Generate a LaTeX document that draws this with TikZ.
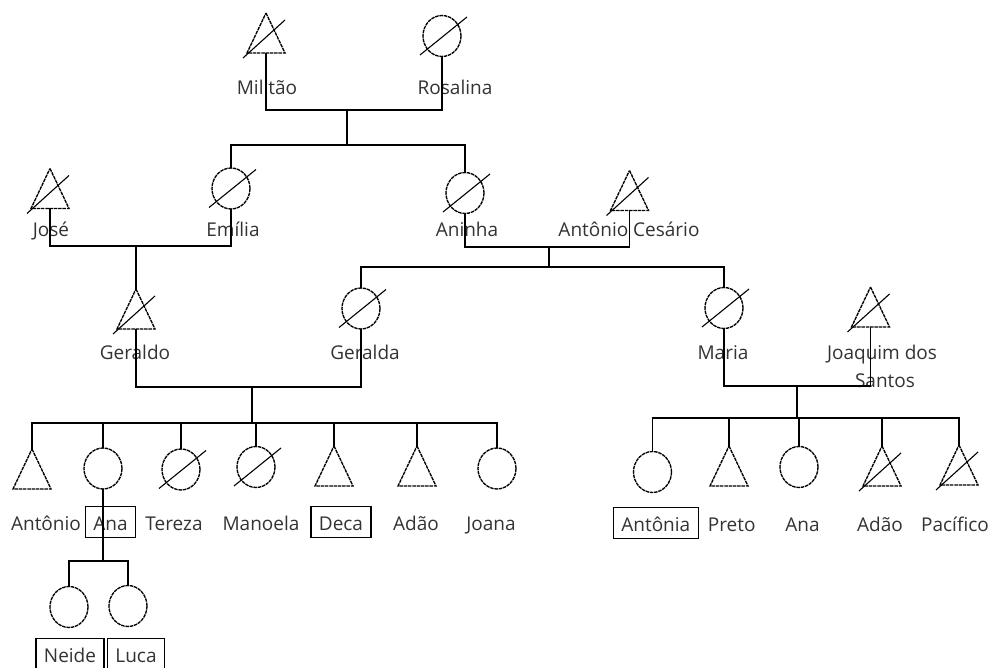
\documentclass[tikz,border=0pt]{standalone}
\usepackage{fontspec}
\setmainfont{Open Sans}
\usetikzlibrary{shapes.geometric}
\begin{document}
\begin{tikzpicture}[x=1pt,y=-1pt,
  outline/.style={line width=1.35pt, dash pattern=on 3.5pt off 0.8pt},
  male/.style={rectangle, minimum width=38pt, minimum height=40pt, inner sep=0pt, outer sep=0pt},
  female/.style={ellipse, draw, outline, minimum width=38pt, minimum height=41pt, inner sep=0pt, outer sep=0pt},
  link/.style={line width=1.6pt},
  slash/.style={line width=1.1pt},
  pname/.style={anchor=base, inner sep=0pt, text=black!80, font=\fontsize{19}{28}\selectfont},
  pbox/.style={pname, draw=black, line width=1.3pt, inner xsep=8pt, inner ysep=3pt,
    text height=20.5pt, text depth=4.5pt}]
\useasboundingbox (0,0) rectangle (993,668);
\clip (0,0) rectangle (993,668);
\fill[white] (0,0) rectangle (993,668);

% ---- persons ----
% first generation
\node[male]   (militao)  at (266,33) {};
\node[female] (rosalina) at (442,36) {};
% second generation
\node[male]   (jose)     at (50,188.5) {};
\node[female] (emilia)   at (231,188.5) {};
\node[female] (aninha)   at (465,193) {};
\node[male]   (cesario)  at (629.5,190.5) {};
% third generation
\node[male]   (geraldo)  at (136,309) {};
\node[female] (geralda)  at (361,308.5) {};
\node[female] (maria)    at (724,308) {};
\node[male]   (joaquim)  at (870.5,307) {};
% children of Geraldo and Geralda
\node[male]   (antonio)  at (32,469) {};
\node[female] (ana)      at (103,468.5) {};
\node[female] (tereza)   at (181,469.5) {};
\node[female] (manoela)  at (256,467) {};
\node[male]   (deca)     at (334,466) {};
\node[male]   (adao)     at (417,466) {};
\node[female] (joana)    at (497,468.5) {};
% children of Maria and Joaquim
\node[female] (antonia)  at (652.5,472) {};
\node[male]   (preto)    at (729,466) {};
\node[female] (anab)     at (799,467) {};
\node[male]   (adaob)    at (882,466) {};
\node[male]   (pacifico) at (959,465) {};
% children of Ana
\node[female] (neide)    at (69,607) {};
\node[female] (luca)     at (128,606) {};

% triangles for the male symbols
\foreach \p in {militao,jose,cesario,geraldo,joaquim,antonio,deca,adao,preto,adaob,pacifico}
  \draw[outline] (\p.north) -- (\p.south east) -- (\p.south west) -- cycle;

% strokes marking the deceased
\foreach \p in {militao,jose,cesario,geraldo,joaquim,adaob,pacifico}
  \draw[slash] ([shift={(-23,25)}]\p.center) -- ([shift={(19,-13)}]\p.center);
\foreach \p in {rosalina,emilia,aninha,geralda,maria,tereza,manoela}
  \draw[slash] ([shift={(-22,19)}]\p.center) -- ([shift={(25,-19)}]\p.center);

% ---- names ----
\node[pname] (lmilitao)  at (267,95)  {Militão};
\node[pname] (lrosalina) at (455,95)  {Rosalina};
\node[pname] (ljose)     at (51,237)  {José};
\node[pname] (lemilia)   at (233,237) {Emília};
\node[pname] (laninha)   at (467,237) {Aninha};
\node[pname] (lcesario)  at (629,237) {Antônio Cesário};
\node[pname] (lgeraldo)  at (135,359) {Geraldo};
\node[pname] (lgeralda)  at (365,359) {Geralda};
\node[pname] (lmaria)    at (723,359) {Maria};
\node[pname] (ljoaquima) at (882,359) {Joaquim dos};
\node[pname] (ljoaquimb) at (885,387) {Santos};
\node[pname] (lantonio)  at (46,530)  {Antônio};
\node[pbox]  (lana)      at (110.5,530) {Ana};
\node[pname] (ltereza)   at (174,530) {Tereza};
\node[pname] (lmanoela)  at (261,530) {Manoela};
\node[pbox]  (ldeca)     at (341,530) {Deca};
\node[pname] (ladao)     at (416,530) {Adão};
\node[pname] (ljoana)    at (491,530) {Joana};
\node[pbox]  (lantonia)  at (655.8,531) {Antônia};
\node[pname] (lpreto)    at (731.7,531) {Preto};
\node[pname] (lanab)     at (802.5,531) {Ana};
\node[pname] (ladaob)    at (880,531) {Adão};
\node[pname] (lpacifico) at (955,531) {Pacífico};
\node[pbox]  (lneide)    at (70,662)  {Neide};
\node[pbox]  (lluca)     at (136,662) {Luca};

% ---- couple and sibship lines ----
\coordinate (cp1) at (347,110);
\coordinate (sb1) at (347,145);
\draw[link] (militao.south) |- (cp1) -| (rosalina.south);
\draw[link] (cp1) -- (sb1);
\draw[link] (emilia.north) |- (sb1) -| (aninha.north);

\coordinate (cp2) at (136,246);
\draw[link] (jose.south) |- (cp2) -| (emilia.south);
\draw[link] (cp2) -- (geraldo.north);

\coordinate (cp3) at (549,247);
\coordinate (sb3) at (549,267);
\draw[link] (aninha.south) |- (cp3) -| (cesario.south);
\draw[link] (cp3) -- (sb3);
\draw[link] (geralda.north) |- (sb3) -| (maria.north);

\coordinate (cp4) at (252,387);
\coordinate (sb4) at (252,423);
\draw[link] (geraldo.south) |- (cp4) -| (geralda.south);
\draw[link] (cp4) -- (sb4);
\draw[link] (antonio.north) |- (sb4) -| (joana.north);
\foreach \c in {ana,tereza,manoela,deca,adao}
  \draw[link] (\c.north) -- (\c.north |- sb4);

\coordinate (cp5) at (797,386);
\coordinate (sb5) at (797,418);
\draw[link] (maria.south) |- (cp5) -| (joaquim.south);
\draw[link] (cp5) -- (sb5);
\draw[link] (antonia.north) |- (sb5) -| (pacifico.north);
\foreach \c in {preto,anab,adaob}
  \draw[link] (\c.north) -- (\c.north |- sb5);

\coordinate (sb6) at (103,561);
\draw[link] (ana.south) -- (sb6);
\draw[link] (neide.north) |- (sb6) -| (luca.north);
\end{tikzpicture}
\end{document}
